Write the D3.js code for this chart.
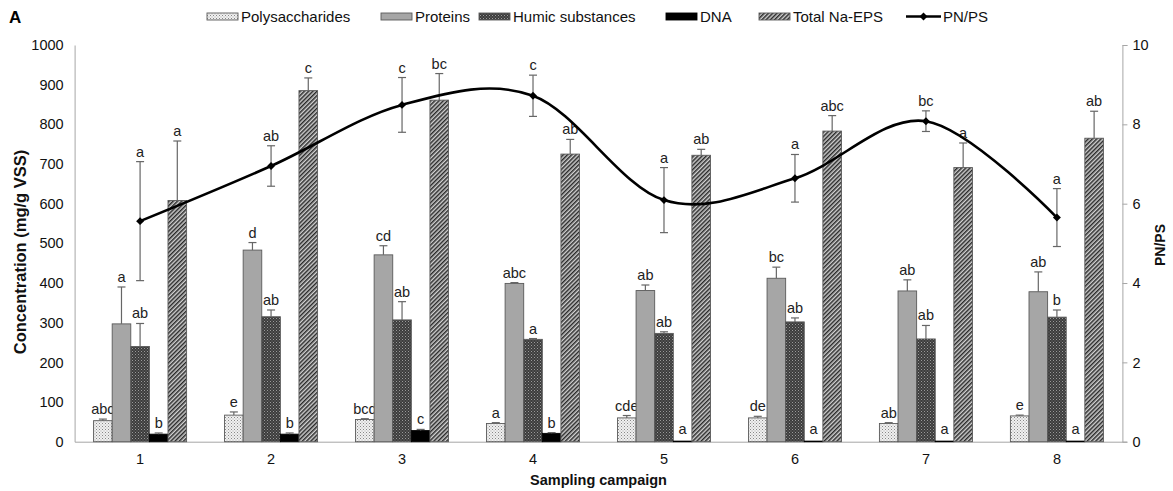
<!DOCTYPE html>
<html>
<head>
<meta charset="utf-8">
<script src="https://cdnjs.cloudflare.com/ajax/libs/d3/7.8.5/d3.min.js"></script>
<style>
  body { margin: 0; background: #fff; }
  svg { display: block; font-family: "Liberation Sans", Arial, sans-serif; }
</style>
</head>
<body>
<svg id="chart" width="1173" height="491"></svg>
<script>
// Sampling campaigns and EPS fractions (mg/g VSS), with standard deviations
const campaigns = ["1", "2", "3", "4", "5", "6", "7", "8"];
const seriesNames = ["Polysaccharides", "Proteins", "Humic substances", "DNA", "Total Na-EPS"];

const polysaccharides = [53, 67, 56, 46, 60, 60, 46, 65];
const polysaccharidesSd = [4, 8, 2, 2, 6, 4, 2, 2];
const proteins = [297, 483, 471, 399, 381, 412, 380, 378];
const proteinsSd = [93, 19, 23, 2, 14, 28, 28, 50];
const humicSubstances = [240, 315, 307, 258, 273, 302, 259, 314];
const humicSubstancesSd = [58, 17, 46, 2, 4, 10, 34, 18];
const dna = [19, 19, 28, 21, 1.5, 1.5, 1.5, 1.5];
const dnaSd = [3, 3, 3, 2, 0, 0, 0, 0];
const totalNaEps = [608, 885, 861, 725, 722, 783, 691, 765];
const totalNaEpsSd = [150, 32, 67, 37, 15, 39, 62, 68];

// Protein / polysaccharide ratio (right axis)
const pnps = [5.56, 6.95, 8.49, 8.72, 6.09, 6.64, 8.08, 5.65];
const pnpsSd = [1.5, 0.51, 0.69, 0.52, 0.82, 0.6, 0.26, 0.73];

// Significance letters
const polysaccharidesLetters = ["abc", "e", "bcd", "a", "cde", "de", "ab", "e"];
const proteinsLetters = ["a", "d", "cd", "abc", "ab", "bc", "ab", "ab"];
const humicLetters = ["ab", "ab", "ab", "a", "ab", "ab", "ab", "b"];
const dnaLetters = ["b", "b", "c", "b", "a", "a", "a", "a"];
const totalLetters = ["a", "c", "bc", "ab", "ab", "abc", "a", "ab"];
const pnpsLetters = ["a", "ab", "c", "c", "a", "a", "bc", "a"];

// Axis ticks
const leftTicks = [0, 100, 200, 300, 400, 500, 600, 700, 800, 900, 1000];
const rightTicks = [0, 2, 4, 6, 8, 10];

const seriesValues = [polysaccharides, proteins, humicSubstances, dna, totalNaEps];
const seriesSd = [polysaccharidesSd, proteinsSd, humicSubstancesSd, dnaSd, totalNaEpsSd];
const seriesLetters = [polysaccharidesLetters, proteinsLetters, humicLetters, dnaLetters, totalLetters];
const seriesFill = ["url(#pPoly)", "#a6a6a6", "url(#pHumic)", "#000", "url(#pTotal)"];

const svg = d3.select("#chart");
const plotLeft = 74.6, plotRight = 1122.4, plotTop = 45, plotBottom = 441.7;

// Fill patterns
const defs = svg.append("defs");
const pPoly = defs.append("pattern").attr("id", "pPoly").attr("width", 3).attr("height", 3)
  .attr("patternUnits", "userSpaceOnUse");
pPoly.append("rect").attr("width", 3).attr("height", 3).attr("fill", "#f0f0f0");
pPoly.append("rect").attr("width", 1).attr("height", 1).attr("fill", "#888");
pPoly.append("rect").attr("x", 1.5).attr("y", 1.5).attr("width", 1).attr("height", 1).attr("fill", "#aaa");

const pHumic = defs.append("pattern").attr("id", "pHumic").attr("width", 3).attr("height", 3)
  .attr("patternUnits", "userSpaceOnUse");
pHumic.append("rect").attr("width", 3).attr("height", 3).attr("fill", "#3c3c3c");
pHumic.append("rect").attr("width", 1).attr("height", 1).attr("fill", "#9a9a9a");
pHumic.append("rect").attr("x", 1.5).attr("y", 1.5).attr("width", 1).attr("height", 1).attr("fill", "#7a7a7a");

const pTotal = defs.append("pattern").attr("id", "pTotal").attr("width", 3).attr("height", 3)
  .attr("patternUnits", "userSpaceOnUse").attr("patternTransform", "rotate(45)");
pTotal.append("rect").attr("width", 3).attr("height", 3).attr("fill", "#d0d0d0");
pTotal.append("rect").attr("width", 1.5).attr("height", 3).attr("fill", "#2a2a2a");

// Scales
const x = d3.scaleBand().domain(campaigns).range([plotLeft, plotRight]).padding(0);
const xs = d3.scaleBand().domain(seriesNames).range([0, x.bandwidth()]).paddingInner(0).paddingOuter(1.02);
const y = d3.scaleLinear().domain([0, 1000]).range([plotBottom, plotTop]);
const y2 = d3.scaleLinear().domain([0, 10]).range([plotBottom, plotTop]);

const axisColor = "#a6a6a6";
const fontFamily = "Liberation Sans, Arial, sans-serif";

// Left axis
const gl = svg.append("g").attr("transform", `translate(${plotLeft},0)`)
  .call(d3.axisLeft(y).tickValues(leftTicks).tickFormat(d3.format("d")).tickSize(0).tickPadding(11));
gl.select(".domain").attr("stroke", axisColor);
gl.selectAll("text").attr("font-size", 14.5).attr("fill", "#111").attr("font-family", fontFamily);

// Right axis
const gr = svg.append("g").attr("transform", `translate(${plotRight},0)`)
  .call(d3.axisRight(y2).tickValues(rightTicks).tickFormat(d3.format("d")).tickSize(5).tickPadding(5));
gr.select(".domain").attr("stroke", axisColor);
gr.selectAll(".tick line").attr("stroke", axisColor);
gr.selectAll("text").attr("font-size", 14.5).attr("fill", "#111").attr("font-family", fontFamily);

// Bottom axis
const gb = svg.append("g").attr("transform", `translate(0,${plotBottom})`)
  .call(d3.axisBottom(x).tickSize(0).tickPadding(12));
gb.select(".domain").attr("stroke", axisColor);
gb.selectAll("text").attr("font-size", 14.5).attr("fill", "#111").attr("font-family", fontFamily);

// Bars
const bars = svg.append("g");
seriesNames.forEach((name, si) => {
  const g = bars.append("g");
  campaigns.forEach((c, i) => {
    const v = seriesValues[si][i];
    const x0 = x(c) + xs(name);
    const w = xs.bandwidth();
    g.append("rect")
      .attr("x", x0).attr("y", y(v))
      .attr("width", w).attr("height", y(0) - y(v))
      .attr("fill", seriesFill[si])
      .attr("stroke", si === 3 ? "#000" : "#5a5a5a").attr("stroke-width", 0.9);
    const sd = seriesSd[si][i];
    const cx = x0 + w / 2;
    if (sd > 0) {
      g.append("line").attr("x1", cx).attr("x2", cx).attr("y1", y(v)).attr("y2", y(v + sd))
        .attr("stroke", "#666").attr("stroke-width", 1.2);
      g.append("line").attr("x1", cx - 4).attr("x2", cx + 4).attr("y1", y(v + sd)).attr("y2", y(v + sd))
        .attr("stroke", "#666").attr("stroke-width", 1.2);
    }
    g.append("text").attr("x", cx).attr("y", y(v + sd) - (sd > 0 ? 5 : 7))
      .attr("text-anchor", "middle").attr("font-size", 14.5).attr("fill", "#222")
      .text(seriesLetters[si][i]);
  });
});

// PN/PS line (smoothed)
const cxOf = c => x(c) + x.bandwidth() / 2;
const line = d3.line().x((d, i) => cxOf(campaigns[i])).y(d => y2(d)).curve(d3.curveCardinal.tension(0));
svg.append("path").datum(pnps).attr("d", line)
  .attr("fill", "none").attr("stroke", "#000").attr("stroke-width", 2.6);

const pg = svg.append("g");
campaigns.forEach((c, i) => {
  const cx = cxOf(c);
  const hi = y2(pnps[i] + pnpsSd[i]), lo = y2(pnps[i] - pnpsSd[i]);
  pg.append("line").attr("x1", cx).attr("x2", cx).attr("y1", hi).attr("y2", lo).attr("stroke", "#666").attr("stroke-width", 1.2);
  pg.append("line").attr("x1", cx - 4).attr("x2", cx + 4).attr("y1", hi).attr("y2", hi).attr("stroke", "#666").attr("stroke-width", 1.2);
  pg.append("line").attr("x1", cx - 4).attr("x2", cx + 4).attr("y1", lo).attr("y2", lo).attr("stroke", "#666").attr("stroke-width", 1.2);
  pg.append("path").attr("d", d3.symbol(d3.symbolDiamond2, 40)())
    .attr("transform", `translate(${cx},${y2(pnps[i])})`).attr("fill", "#000");
  pg.append("text").attr("x", cx).attr("y", hi - 5).attr("text-anchor", "middle")
    .attr("font-size", 14.5).attr("fill", "#222").text(pnpsLetters[i]);
});

// Axis titles
svg.append("text").attr("transform", "translate(20,252) rotate(-90)")
  .attr("text-anchor", "middle").attr("dominant-baseline", "central")
  .attr("font-size", 16.5).attr("font-weight", "bold").attr("fill", "#111")
  .text("Concentration (mg/g VSS)");
svg.append("text").attr("transform", "translate(1160,245) rotate(-90)")
  .attr("text-anchor", "middle").attr("dominant-baseline", "central")
  .attr("font-size", 14).attr("font-weight", "bold").attr("fill", "#111")
  .text("PN/PS");
svg.append("text").attr("x", (plotLeft + plotRight) / 2).attr("y", 485)
  .attr("text-anchor", "middle").attr("font-size", 14.5).attr("font-weight", "bold").attr("fill", "#111")
  .text("Sampling campaign");

// Panel letter
svg.append("text").attr("x", 9).attr("y", 23).attr("font-size", 17).attr("font-weight", "bold").text("A");

// Legend
const legendX = [207, 381, 479, 666, 759];
const legend = svg.append("g");
seriesNames.forEach((name, si) => {
  legend.append("rect").attr("x", legendX[si]).attr("y", 13).attr("width", 31).attr("height", 7)
    .attr("fill", seriesFill[si]).attr("stroke", si === 3 ? "#000" : "#5a5a5a").attr("stroke-width", 0.9);
  legend.append("text").attr("x", legendX[si] + 34).attr("y", 22).attr("font-size", 15).attr("fill", "#111").text(name);
});
legend.append("line").attr("x1", 906).attr("x2", 941).attr("y1", 16.5).attr("y2", 16.5).attr("stroke", "#000").attr("stroke-width", 2.4);
legend.append("path").attr("d", d3.symbol(d3.symbolDiamond2, 40)()).attr("transform", "translate(923.5,16.5)").attr("fill", "#000");
legend.append("text").attr("x", 943).attr("y", 22).attr("font-size", 15).attr("fill", "#111").text("PN/PS");
</script>
</body>
</html>
